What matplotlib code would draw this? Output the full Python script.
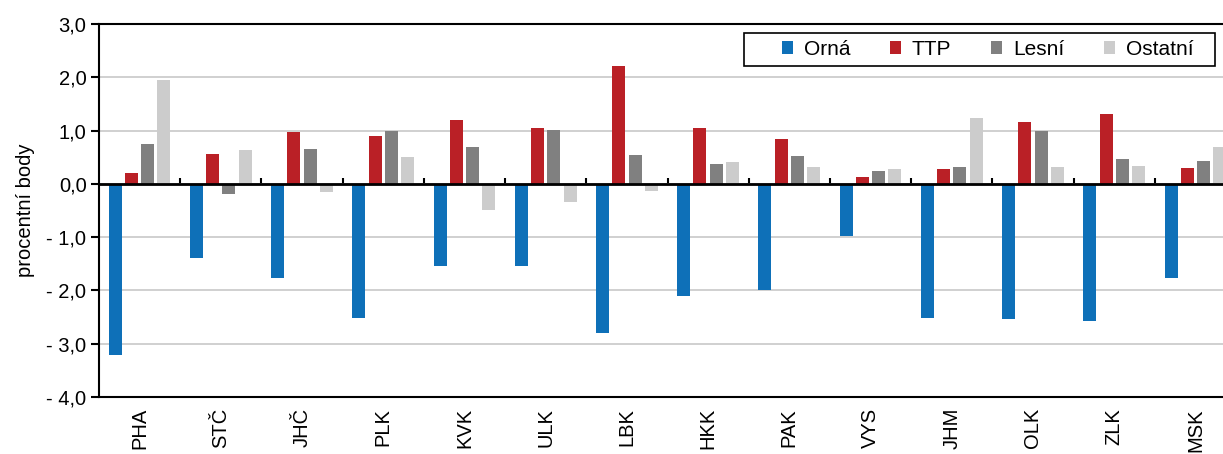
import matplotlib
matplotlib.use("Agg")
import matplotlib.pyplot as plt
from matplotlib.patches import Rectangle
import numpy as np

kraje = ["PHA", "STČ", "JHČ", "PLK", "KVK", "ULK", "LBK", "HKK", "PAK", "VYS", "JHM", "OLK", "ZLK", "MSK"]
orna = [-3.22, -1.40, -1.77, -2.51, -1.54, -1.54, -2.80, -2.11, -2.00, -0.97, -2.52, -2.54, -2.57, -1.77]
ttp = [0.21, 0.56, 0.98, 0.89, 1.20, 1.04, 2.21, 1.04, 0.84, 0.13, 0.28, 1.16, 1.32, 0.29]
lesni = [0.74, -0.19, 0.65, 1.00, 0.69, 1.01, 0.54, 0.37, 0.52, 0.24, 0.31, 1.00, 0.47, 0.43]
ostatni = [1.95, 0.63, -0.16, 0.51, -0.49, -0.34, -0.13, 0.41, 0.31, 0.28, 1.24, 0.32, 0.34, 0.69]
serie_nazvy = ["Orná", "TTP", "Lesní", "Ostatní"]
barvy = ["#0E70B8", "#BA2026", "#808080", "#CCCCCC"]

plt.rcParams['font.family'] = ['Liberation Sans', 'DejaVu Sans']

W, H = 1223, 454
fig = plt.figure(figsize=(W/100, H/100), dpi=100)
# graf je v originale vpravo oriznuty (posledni sloupec neni cely)
ax = fig.add_axes([99/W, 1-397/H, 1137/W, 373/H])

x = np.arange(len(kraje))
sirka = 0.16
krok = 0.2
for i, (vals, nazev, c) in enumerate(zip([orna, ttp, lesni, ostatni], serie_nazvy, barvy)):
    ax.bar(x + (i-1.5)*krok, vals, width=sirka, color=c, label=nazev, zorder=3)

ax.set_xlim(-0.5, len(kraje)-0.5)
ax.set_ylim(-4, 3)
yt = np.arange(-4, 3.1, 1)
ax.set_yticks(yt)
ax.set_yticklabels([("- " if v < 0 else "") + f"{abs(v):.1f}".replace(".", ",") for v in yt])
ax.yaxis.grid(True, color="#C8C8C8", linewidth=1.2, zorder=0)
ax.axhline(0, color="black", linewidth=2, zorder=4)

ax.set_xticks(x)
ax.set_xticklabels(kraje, rotation=90)
ax.tick_params(axis='x', length=0, pad=8, labelsize=14.5)
ax.tick_params(axis='y', length=5.5, width=1.5, labelsize=14.5, direction='out')

# male carky na nulove ose mezi kraji
sec = ax.secondary_xaxis(4/7)
sec.set_xticks(np.arange(0.5, len(kraje)-1, 1))
sec.set_xticklabels([])
sec.tick_params(length=4, width=1.5, color="black")
sec.spines['bottom'].set_visible(False)

for s in ['left', 'top', 'bottom']:
    ax.spines[s].set_linewidth(1.5)
ax.spines['right'].set_visible(False)

ax.set_ylabel("procentní body", fontsize=14.5, labelpad=8)

leg = ax.legend(ncol=4, loc='center left', bbox_to_anchor=((782-99)/1137, (397-49.5)/373), fontsize=15,
                frameon=False, handlelength=0.55, handleheight=0.55,
                columnspacing=1.9, handletextpad=0.5, borderpad=0, borderaxespad=0)
leg.set_zorder(6)
ax.add_patch(Rectangle(((744-99)/1137, (397-66)/373), (1215-744)/1137, 33/373, transform=ax.transAxes,
                       facecolor="white", edgecolor="black", linewidth=1.2, zorder=5))

fig.savefig("out.png", dpi=100)
